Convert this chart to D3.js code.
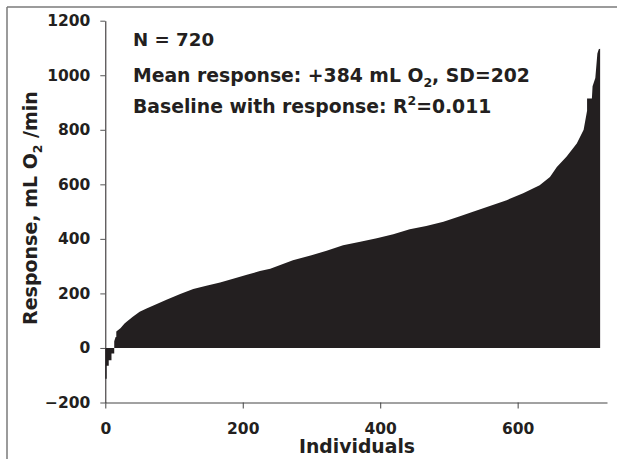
<!DOCTYPE html>
<html>
<head>
<meta charset="utf-8">
<script src="https://cdn.jsdelivr.net/npm/d3@7"></script>
<style>
  html, body { margin: 0; padding: 0; background: #fff; }
  svg { display: block; }
  text { font-family: "DejaVu Sans", sans-serif; font-weight: bold; fill: #231f20; }
</style>
</head>
<body>
<svg id="chart" width="617" height="459"></svg>
<script>
// Sorted individual responses (rank position -> response, mL O2/min)
const individuals = [0,2,2,5,5,9,9,13,13,15,16,16,22,28,31,40,50,60,70,89,109,128,147,167,186,206,225,240,273,300,322,346,371,395,419,443,467,492,516,535,584,608,632,647,657,671,686,696,701,701,708,709,713,716,718,720];
const responses   = [-113,-113,-65,-65,-45,-45,-20,-20,25,40,40,60,72,90,96,114,133,145,156,177,198,216,228,240,254,268,282,290,322,340,356,377,389,402,417,435,447,463,483,499,542,567,597,627,664,701,750,800,870,915,915,960,990,1080,1095,1097];

const yTicks = [-200, 0, 200, 400, 600, 800, 1000, 1200];
const xTicks = [0, 200, 400, 600];
const xDomain = [0, 730];
const yDomain = [-200, 1200];

const svg = d3.select("#chart");

// outer frame (top and left edges visible)
svg.append("line").attr("x1", 7).attr("y1", 7).attr("x2", 617).attr("y2", 7)
  .attr("stroke", "#7a7a7a").attr("stroke-width", 1.5);
svg.append("line").attr("x1", 7).attr("y1", 7).attr("x2", 7).attr("y2", 459)
  .attr("stroke", "#7a7a7a").attr("stroke-width", 1.5);

const x = d3.scaleLinear().domain(xDomain).range([105.3, 607]);
const y = d3.scaleLinear().domain(yDomain).range([402.5, 20.7]);

const pts = individuals.map((d, i) => ({ i: d, v: responses[i] }));

const area = d3.area()
  .x(d => x(d.i))
  .y0(y(0))
  .y1(d => y(d.v));

svg.append("path")
  .datum(pts)
  .attr("d", area)
  .attr("fill", "#231f20");

// y axis
const yAxis = d3.axisLeft(y).tickValues(yTicks).tickSize(5).tickSizeOuter(0).tickPadding(10).tickFormat(d3.format("d"));
const gy = svg.append("g").attr("transform", `translate(${x(0)},0)`).call(yAxis);
gy.select(".domain").attr("stroke", "#231f20").attr("stroke-width", 1);
gy.selectAll(".tick line").attr("stroke", "#555");
gy.selectAll(".tick text").style("font-size", "15.5px").style("font-family", "'DejaVu Sans', sans-serif").style("font-weight", "bold").attr("fill", "#231f20");

// x axis
const xAxis = d3.axisBottom(x).tickValues(xTicks).tickSize(6).tickSizeOuter(0).tickPadding(14).tickFormat(d3.format("d"));
const gx = svg.append("g").attr("transform", `translate(0,${y(-200)})`).call(xAxis);
gx.select(".domain").attr("stroke", "#444").attr("stroke-width", 1);
gx.selectAll(".tick line").attr("stroke", "#444");
gx.selectAll(".tick text").style("font-size", "15.5px").style("font-family", "'DejaVu Sans', sans-serif").style("font-weight", "bold").attr("fill", "#231f20");

// axis titles
svg.append("text").attr("x", 357).attr("y", 453).attr("text-anchor", "middle")
  .style("font-size", "18.8px").text("Individuals");

const yl = svg.append("text").attr("transform", "translate(37,208) rotate(-90)")
  .attr("text-anchor", "middle").style("font-size", "19px");
yl.append("tspan").text("Response, mL O");
yl.append("tspan").attr("dy", 5).style("font-size", "12.5px").text("2");
yl.append("tspan").attr("dy", -5).text(" /min");

// annotations
svg.append("text").attr("x", 133).attr("y", 46).style("font-size", "18.2px").text("N = 720");

const t2 = svg.append("text").attr("x", 133).attr("y", 82).style("font-size", "18.8px");
t2.append("tspan").text("Mean response: +384 mL O");
t2.append("tspan").attr("dy", 5).style("font-size", "12.5px").text("2");
t2.append("tspan").attr("dy", -5).text(", SD=202");

const t3 = svg.append("text").attr("x", 133).attr("y", 113).style("font-size", "18.8px");
t3.append("tspan").text("Baseline with response: R");
t3.append("tspan").attr("dy", -8).style("font-size", "12.5px").text("2");
t3.append("tspan").attr("dy", 8).text("=0.011");
</script>
</body>
</html>
